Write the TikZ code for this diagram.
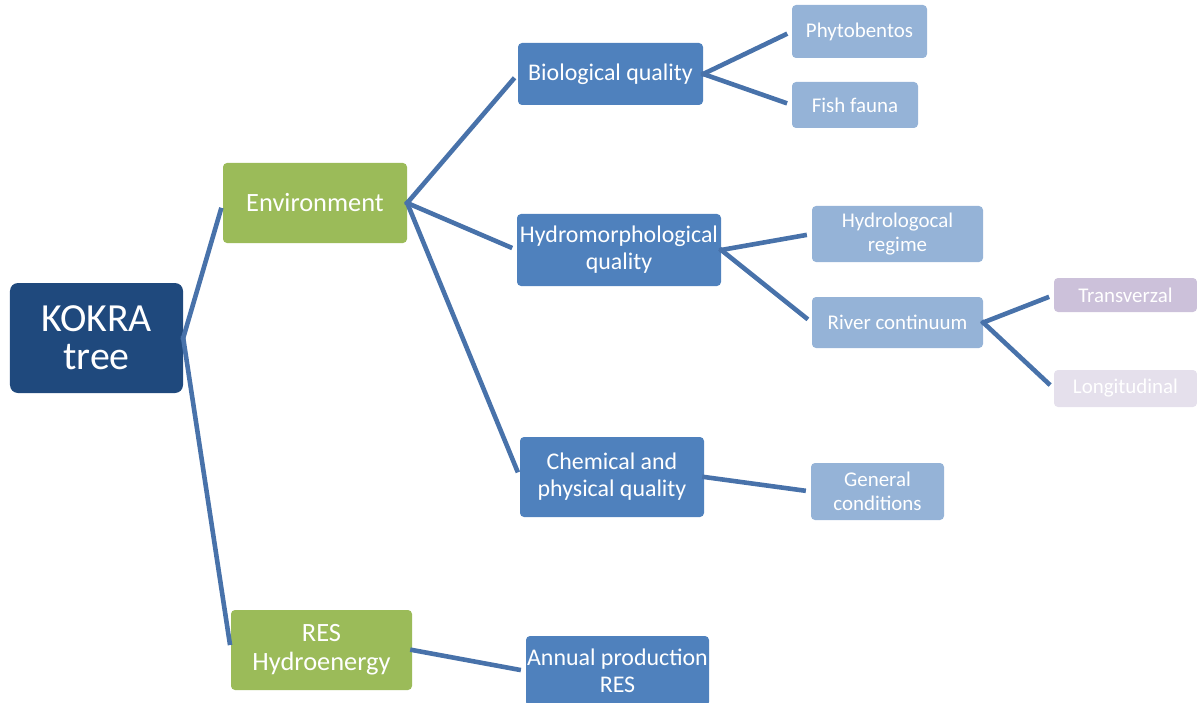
\documentclass[tikz,border=0pt]{standalone}
\usepackage{fontspec}
\setmainfont{Carlito}
\definecolor{darkblue}{HTML}{1F497D}
\definecolor{leafgreen}{HTML}{9BBB59}
\definecolor{midblue}{HTML}{4F81BD}
\definecolor{lightblue}{HTML}{95B3D7}
\definecolor{lav}{HTML}{CCC1DA}
\definecolor{palelav}{HTML}{E5E0EC}
\definecolor{linkblue}{RGB}{72,114,170}
\begin{document}
\begin{tikzpicture}[x=1bp,y=-1bp,
  box/.style={rectangle, rounded corners=4bp, text=white, align=center, inner sep=0pt},
  rootbox/.style={box, fill=darkblue, rounded corners=8bp, font=\fontsize{40}{38}\selectfont},
  lvone/.style={box, fill=leafgreen, font=\fontsize{26.5}{29}\selectfont},
  lvtwo/.style={box, fill=midblue, font=\fontsize{24}{27}\selectfont},
  lvthree/.style={box, fill=lightblue, font=\fontsize{21}{23.5}\selectfont},
  lvfour/.style={box, font=\fontsize{21}{23.5}\selectfont},
  link/.style={draw=linkblue, line width=4.6bp, shorten >=5bp, shorten <=-2bp}
]
\useasboundingbox (0,0) rectangle (1197,703);
\node[rootbox, minimum width=173bp, minimum height=110bp] (root) at (96.5,338) {KOKRA\\tree};
\node[lvone, minimum width=184bp, minimum height=80bp] (env) at (315,203) {Environment};
\node[lvone, minimum width=181bp, minimum height=80bp] (res) at (321.5,650) {RES\\Hydroenergy};
\node[lvtwo, minimum width=185bp, minimum height=62bp] (bio) at (610.5,74) {Biological quality};
\node[lvtwo, minimum width=204bp, minimum height=72bp] (hydro) at (619,250) {Hydromorphological\\quality};
\node[lvtwo, minimum width=184bp, minimum height=80bp] (chem) at (612,477) {Chemical and\\physical quality};
\node[lvtwo, minimum width=183bp, minimum height=70bp] (annual) at (617.5,671) {Annual production\\RES};
\node[lvthree, minimum width=135bp, minimum height=53bp] (phyto) at (859.5,31.5) {Phytobentos};
\node[lvthree, minimum width=126bp, minimum height=46bp] (fish) at (855,105) {Fish fauna};
\node[lvthree, minimum width=171bp, minimum height=56bp] (regime) at (897.5,234) {Hydrologocal\\regime};
\node[lvthree, minimum width=171bp, minimum height=51bp] (cont) at (897.5,322.5) {River continuum};
\node[lvthree, minimum width=133bp, minimum height=57bp] (gen) at (877.5,491.5) {General\\conditions};
\node[lvfour, fill=lav, minimum width=143bp, minimum height=34bp] (trans) at (1125.5,295) {Transverzal};
\node[lvfour, fill=palelav, minimum width=143bp, minimum height=37bp] (longi) at (1125.5,388.5) {Longitudinal};
\draw[link] (root.east) -- (env.west);
\draw[link] (root.east) -- (res.west);
\draw[link] (env.east) -- (bio.west);
\draw[link] (env.east) -- (hydro.west);
\draw[link] (env.east) -- (chem.west);
\draw[link] (res.east) -- (annual.west);
\draw[link] (bio.east) -- (phyto.west);
\draw[link] (bio.east) -- (fish.west);
\draw[link] (hydro.east) -- (regime.west);
\draw[link] (hydro.east) -- (cont.west);
\draw[link] (chem.east) -- (gen.west);
\draw[link] (cont.east) -- (trans.west);
\draw[link] (cont.east) -- (longi.west);
\end{tikzpicture}
\end{document}
